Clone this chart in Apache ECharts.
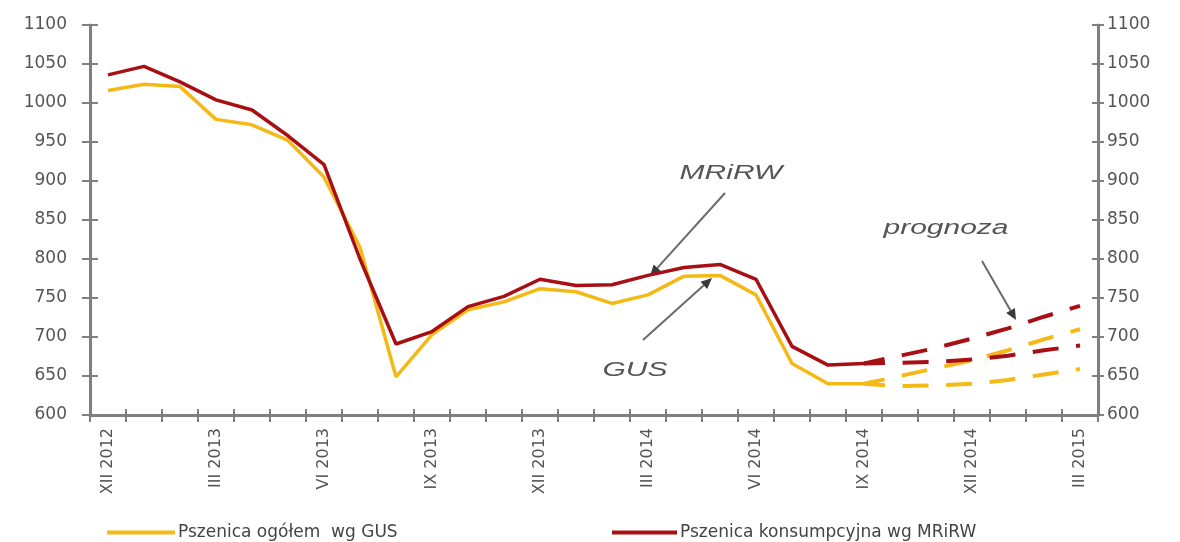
<!DOCTYPE html>
<html><head><meta charset="utf-8">
<script src="https://cdn.jsdelivr.net/npm/echarts@6/dist/echarts.min.js"></script>
<style>html,body{margin:0;padding:0;background:#fff}#c{width:1180px;height:542px}</style>
</head><body><div id="c"></div>
<script>
// ---- data ----
const categories = ["XII 2012","I 2013","II 2013","III 2013","IV 2013","V 2013","VI 2013","VII 2013","VIII 2013","IX 2013","X 2013","XI 2013","XII 2013","I 2014","II 2014","III 2014","IV 2014","V 2014","VI 2014","VII 2014","VIII 2014","IX 2014","X 2014","XI 2014","XII 2014","I 2015","II 2015","III 2015"];
const yMin = 600, yMax = 1100, yStep = 50;
const gusName = "Pszenica ogółem  wg GUS";
const mrirwName = "Pszenica konsumpcyjna wg MRiRW";
const gusValues   = [1016,1024,1021,979,972,952,905,815,649,703,735,745,762,758,743,754,778,779,754,666,640,640];
const mrirwValues = [1036,1047,1027,1004,991,958,921,800,691,707,739,752,774,766,767,779,789,793,774,688,664,666];
const forecastStartIndex = 21; // IX 2014
const mrirwForecastHigh = [666,676,686,698,711,726,740];
const mrirwForecastLow  = [666,667,668,671,676,683,689];
const gusForecastHigh   = [640,650,660,670,683,697,710];
const gusForecastLow    = [640,637,638,640,645,652,659];
const annotationTexts = ["MRiRW","GUS","prognoza"];

// ---- helpers ----
function placeFrom(start, arr){
  const out = categories.map(()=>null);
  arr.forEach((v,i)=>{ out[start+i]=v; });
  return out;
}
const GOLD = '#F4B916', RED = '#A80F14', AX = '#7f7f7f', TXT = '#555555';
const FONT = 'DejaVu Sans';

function arrow(x1,y1,x2,y2){
  const dx=x2-x1, dy=y2-y1, L=Math.hypot(dx,dy), ux=dx/L, uy=dy/L, nx=-uy, ny=ux;
  const bx=x2-ux*11, by=y2-uy*11;
  return [
    {type:'line', shape:{x1,y1,x2:bx,y2:by}, style:{stroke:'#6a6a6a', lineWidth:2}},
    {type:'polygon', shape:{points:[[x2,y2],[bx+nx*5,by+ny*5],[bx-nx*5,by-ny*5]]}, style:{fill:'#3a3a3a'}}
  ];
}
function label(text,x,y){
  return {type:'text', x, y, scaleX:1.5, style:{text, font:'italic 20px "Liberation Sans"', fill:'#555', align:'center', verticalAlign:'middle'}};
}

const chart = echarts.init(document.getElementById('c'), null, {renderer:'canvas'});

const valueAxisBase = {type:'value', min:yMin, max:yMax, interval:yStep, splitLine:{show:false}};
const catAxisBase = {type:'category', data:categories, boundaryGap:true};
const plain = v => String(v);

const lineSeries = (name, data, color, dashed) => ({
  name, type:'line', data, symbol:'none', smooth:false, connectNulls:false,
  xAxisIndex:0, yAxisIndex:0,
  lineStyle: dashed ? {color, width:4, type:[26,17.6], dashOffset:5, cap:'butt'} : {color, width:3.5},
  itemStyle:{color}, z: dashed ? 3 : 2, silent:true
});

chart.setOption({
  animation:false,
  backgroundColor:'#fff',
  grid:{left:90, right:82, top:25, bottom:127, containLabel:false},
  xAxis:[
    Object.assign({}, catAxisBase, {
      position:'bottom',
      axisLine:{onZero:false, lineStyle:{color:AX, width:3}},
      axisTick:{show:true, interval:0, length:7, inside:false, lineStyle:{color:AX, width:2}},
      axisLabel:{interval:2, rotate:90, margin:13, color:TXT, fontSize:16, fontFamily:FONT}
    }),
    Object.assign({}, catAxisBase, {
      position:'bottom',
      axisLine:{show:false, onZero:false},
      axisTick:{show:true, interval:0, length:6, inside:true, lineStyle:{color:AX, width:2}},
      axisLabel:{show:false}
    })
  ],
  yAxis:[
    Object.assign({}, valueAxisBase, {
      position:'left',
      axisLine:{show:true, lineStyle:{color:AX, width:3}},
      axisTick:{show:true, length:8, lineStyle:{color:AX, width:2}},
      axisLabel:{margin:23, color:TXT, fontSize:17, fontFamily:FONT, formatter:plain}
    }),
    Object.assign({}, valueAxisBase, {
      position:'right',
      axisLine:{show:true, lineStyle:{color:AX, width:3}},
      axisTick:{show:true, length:6, lineStyle:{color:AX, width:2}},
      axisLabel:{margin:9, color:TXT, fontSize:17, fontFamily:FONT, formatter:plain}
    }),
    Object.assign({}, valueAxisBase, {
      position:'left',
      axisLine:{show:false}, axisTick:{show:true, inside:true, length:8, lineStyle:{color:AX, width:2}}, axisLabel:{show:false}
    }),
    Object.assign({}, valueAxisBase, {
      position:'right',
      axisLine:{show:false}, axisTick:{show:true, inside:true, length:6, lineStyle:{color:AX, width:2}}, axisLabel:{show:false}
    })
  ],
  legend:[
    {data:[gusName], left:102, top:519, icon:'rect', itemWidth:68, itemHeight:4, itemGap:0,
     textStyle:{color:'#444', fontSize:17, fontFamily:FONT, padding:[0,0,0,-2]}},
    {data:[mrirwName], left:607, top:519, icon:'rect', itemWidth:65, itemHeight:4, itemGap:0,
     textStyle:{color:'#444', fontSize:17, fontFamily:FONT, padding:[0,0,0,-2]}}
  ],
  series:[
    lineSeries(gusName, gusValues, GOLD, false),
    lineSeries(mrirwName, mrirwValues, RED, false),
    lineSeries('prognoza GUS (górna)', placeFrom(forecastStartIndex, gusForecastHigh), GOLD, true),
    lineSeries('prognoza GUS (dolna)', placeFrom(forecastStartIndex, gusForecastLow), GOLD, true),
    lineSeries('prognoza MRiRW (górna)', placeFrom(forecastStartIndex, mrirwForecastHigh), RED, true),
    lineSeries('prognoza MRiRW (dolna)', placeFrom(forecastStartIndex, mrirwForecastLow), RED, true)
  ],
  graphic:[
    label(annotationTexts[0], 731, 173),
    ...arrow(725,193,650,276),
    label(annotationTexts[1], 635, 370),
    ...arrow(643,340,712,278),
    label(annotationTexts[2], 946, 228),
    ...arrow(982,261,1016,320)
  ]
});
</script></body></html>
